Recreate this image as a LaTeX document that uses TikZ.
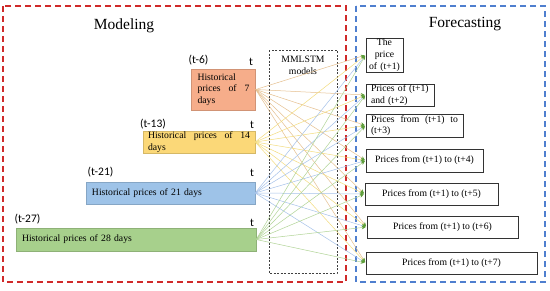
\documentclass[tikz,border=0pt]{standalone}
\usepackage{fontspec}
\setmainfont{Liberation Serif}
\newfontfamily\calfont{Carlito}
\usetikzlibrary{arrows.meta}
\definecolor{framered}{HTML}{D02A2A}
\definecolor{frameblue}{HTML}{4F7FCF}
\definecolor{forange}{HTML}{F6AD8A}
\definecolor{fyellow}{HTML}{FBD878}
\definecolor{fblue}{HTML}{9EC3E8}
\definecolor{fgreen}{HTML}{A7D08C}
\definecolor{lorange}{HTML}{E6C08F}
\definecolor{lyellow}{HTML}{F3DC7E}
\definecolor{lblue}{HTML}{A6C2EA}
\definecolor{lgreen}{HTML}{B1D496}
\definecolor{tipgreen}{HTML}{5E9E3A}
\newcommand{\spreadline}[2]{\leavevmode\hbox to #1{#2}}
\begin{document}
\begin{tikzpicture}[x=1pt,y=-1pt,
  txt/.style={font=\fontsize{9.7}{11.7}\selectfont},
  lbl/.style={font=\calfont\fontsize{11.5}{13}\selectfont, inner sep=0pt},
  title/.style={font=\fontsize{15.5}{18}\selectfont, inner sep=0pt},
  lbox/.style={draw=#1!85!black, fill=#1, line width=0.4pt, inner ysep=0pt, txt},
  rbox/.style={draw=black!80, fill=white, line width=0.6pt, inner ysep=0pt, txt},
  frame/.style={draw=#1, line width=1.3pt, dash pattern=on 6pt off 4pt},
  conn/.style={draw=#1, line width=0.5pt, shorten >=1pt,
    -{Stealth[length=4pt,width=3.5pt,color=tipgreen]}}]
\useasboundingbox (0,0) rectangle (550,290);
\fill[white] (0,0) rectangle (550,290);

% frames
\draw[frame=framered] (3,6) rectangle (346,282);
\draw[frame=frameblue] (356,6) rectangle (545,282);
\node[title] (modeling) at (124,26) {Modeling};
\node[title] (forecasting) at (465,24) {Forecasting};

% MMLSTM box
\draw[black!75, line width=0.6pt, dash pattern=on 2pt off 1.5pt] (269,50) rectangle (337,273);
\node[txt, align=center, inner sep=0pt] (mm) at (303,65) {MMLSTM\\models};

% left boxes
\node[lbox=forange, minimum width=63, minimum height=41, inner xsep=6pt,
      text width=52pt, align=left] (b7) at (223.5,89.5)
  {Historical\\\spreadline{52pt}{prices\hfill of\hfill 7}\\days};
\node[lbox=fyellow, minimum width=112, minimum height=22, inner xsep=5pt,
      text width=102pt, align=left] (b14) at (199,142)
  {\spreadline{102pt}{Historical\hfill prices\hfill of\hfill 14}\\days};
\node[lbox=fblue, minimum width=169, minimum height=22, inner xsep=6pt,
      text width=157pt, align=left] (b21) at (170.5,193)
  {Historical prices of 21 days};
\node[lbox=fgreen, minimum width=240, minimum height=23, inner xsep=6pt,
      text width=228pt, align=left] (b28) at (136,239.5)
  {Historical prices of 28 days};

% time labels
\node[lbl] (t6) at (198.5,60) {(t-6)};
\node[lbl] (t6e) at (251,62) {t};
\node[lbl] (t13) at (153,124) {(t-13)};
\node[lbl] (t13e) at (252,125) {t};
\node[lbl] (t21) at (100.5,172) {(t-21)};
\node[lbl] (t21e) at (252,173) {t};
\node[lbl] (t27) at (27.5,219) {(t-27)};
\node[lbl] (t27e) at (252,223) {t};

% right boxes
\node[rbox, minimum width=37, minimum height=34, inner xsep=3pt,
      text width=31pt, align=center] (r1) at (384.5,55)
  {The\\price\\of (t+1)};
\node[rbox, minimum width=68, minimum height=22, inner xsep=5pt,
      text width=58pt, align=left] (r2) at (400,95)
  {Prices of (t+1)\\and (t+2)};
\node[rbox, minimum width=97, minimum height=23, inner xsep=5pt,
      text width=87pt, align=left] (r3) at (414.5,125.5)
  {\spreadline{87pt}{Prices\hfill from\hfill (t+1)\hfill to}\\(t+3)};
\node[rbox, minimum width=117, minimum height=23] (r4) at (424.5,160.5)
  {Prices from (t+1) to (t+4)};
\node[rbox, minimum width=133, minimum height=22] (r5) at (431.5,194)
  {Prices from (t+1) to (t+5)};
\node[rbox, minimum width=151, minimum height=22] (r6) at (442.5,227)
  {Prices from (t+1) to (t+6)};
\node[rbox, minimum width=171, minimum height=22] (r7) at (451.5,263)
  {Prices from (t+1) to (t+7)};

% connectors
\foreach \s/\c in {b7/lorange,b14/lyellow,b21/lblue,b28/lgreen}{
  \foreach \t in {r1,r2,r3,r4,r5,r6,r7}{
    \draw[conn=\c] (\s.east) -- (\t.west);
  }
}
\end{tikzpicture}
\end{document}
